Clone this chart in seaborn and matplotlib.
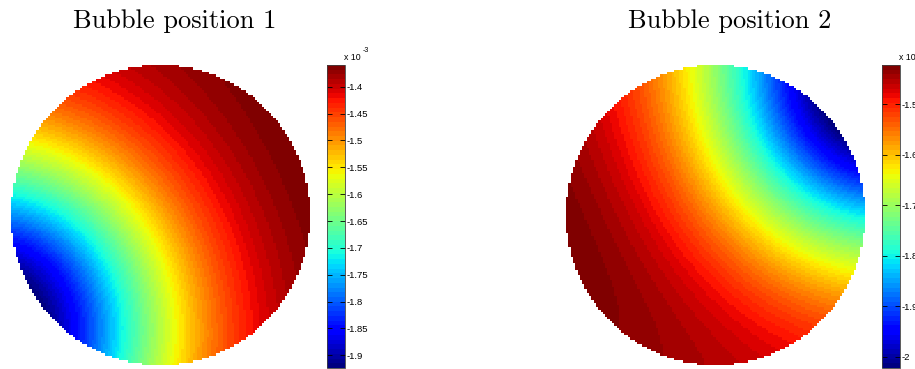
import numpy as np
import pandas as pd
import matplotlib
matplotlib.use('Agg')
import matplotlib.pyplot as plt
import seaborn as sns

# ========= figure / layout =======================
W, H = 915, 369
out_path = 'out.png'

# =========== parameters =======================================
titles = ['Bubble position 1', 'Bubble position 2']
# bubble centre (disk radius = 1), spread and vertical flattening of the field
bubble_x = [-1.15, 1.14]
bubble_y = [-0.74, 0.88]
bubble_width = [1.2, 1.2]
flatten = [0.01, 0.03]
# colour limits (x 10^-3)
cbar_min = [-1.9236, -2.0224]
cbar_max = [-1.3596, -1.4228]
cbar_ticks = [
    [-1.9, -1.85, -1.8, -1.75, -1.7, -1.65, -1.6, -1.55, -1.5, -1.45, -1.4],
    [-2.0, -1.9, -1.8, -1.7, -1.6, -1.5],
]
cbar_labels = [
    ['-1.9', '-1.85', '-1.8', '-1.75', '-1.7', '-1.65', '-1.6', '-1.55', '-1.5', '-1.45', '-1.4'],
    ['-2', '-1.9', '-1.8', '-1.7', '-1.6', '-1.5'],
]
exponent = '-3'

n_cells = 130

# pixel boxes (left, top, width, height)
disk_boxes = [(11, 65, 299, 300), (566, 65, 299, 300)]
cbar_boxes = [(327, 65, 18, 303), (882, 65, 18, 303)]
title_pos = [(175, 28), (730, 28)]

jet64 = matplotlib.colormaps['jet'].resampled(64)


def px_rect(box):
    l, t, w, h = box
    return [l / W, 1 - (t + h) / H, w / W, h / H]


def disk_field(i):
    c = np.linspace(-1, 1, n_cells + 1)
    c = (c[:-1] + c[1:]) / 2
    X, Y = np.meshgrid(c, c[::-1])
    d2 = (X - bubble_x[i]) ** 2 + (Y - bubble_y[i]) ** 2
    f = -np.exp(-d2 / bubble_width[i] ** 2) - flatten[i] * Y ** 2
    inside = X ** 2 + Y ** 2 <= 1
    lo, hi = f[inside].min(), f[inside].max()
    f = cbar_min[i] + (f - lo) / (hi - lo) * (cbar_max[i] - cbar_min[i])
    return pd.DataFrame(f), ~inside


fig = plt.figure(figsize=(W / 100, H / 100), dpi=100)

for i in range(2):
    ax = fig.add_axes(px_rect(disk_boxes[i]))
    cax = fig.add_axes(px_rect(cbar_boxes[i]))
    df, mask = disk_field(i)
    sns.heatmap(df, mask=mask, cmap=jet64, vmin=cbar_min[i], vmax=cbar_max[i],
                ax=ax, cbar_ax=cax, xticklabels=False, yticklabels=False,
                cbar_kws={'ticks': cbar_ticks[i]})
    ax.set_xlabel('')
    ax.set_ylabel('')

    cbar = ax.collections[0].colorbar
    cbar.outline.set_linewidth(0.6)
    cbar.outline.set_edgecolor('#404040')
    cax.set_yticklabels(cbar_labels[i], family='Liberation Sans', fontsize=6.8)
    cax.tick_params(axis='y', direction='in', left=True, right=True,
                    length=3.5, width=0.6, pad=1, labelleft=False, labelright=True)

    # exponent label on top of the colour bar
    l, t, w, h = cbar_boxes[i]
    fig.text((l + 17) / W, 1 - (t - 8) / H, 'x 10', family='Liberation Sans',
             fontsize=6.3, ha='left', va='center')
    fig.text((l + 36) / W, 1 - (t - 15) / H, exponent, family='Liberation Sans',
             fontsize=5, ha='left', va='center')

    tx, ty = title_pos[i]
    fig.text(tx / W, 1 - ty / H, titles[i], family='cmr10', fontsize=19,
             ha='center', va='baseline')

fig.savefig(out_path, dpi=100)
plt.close()
